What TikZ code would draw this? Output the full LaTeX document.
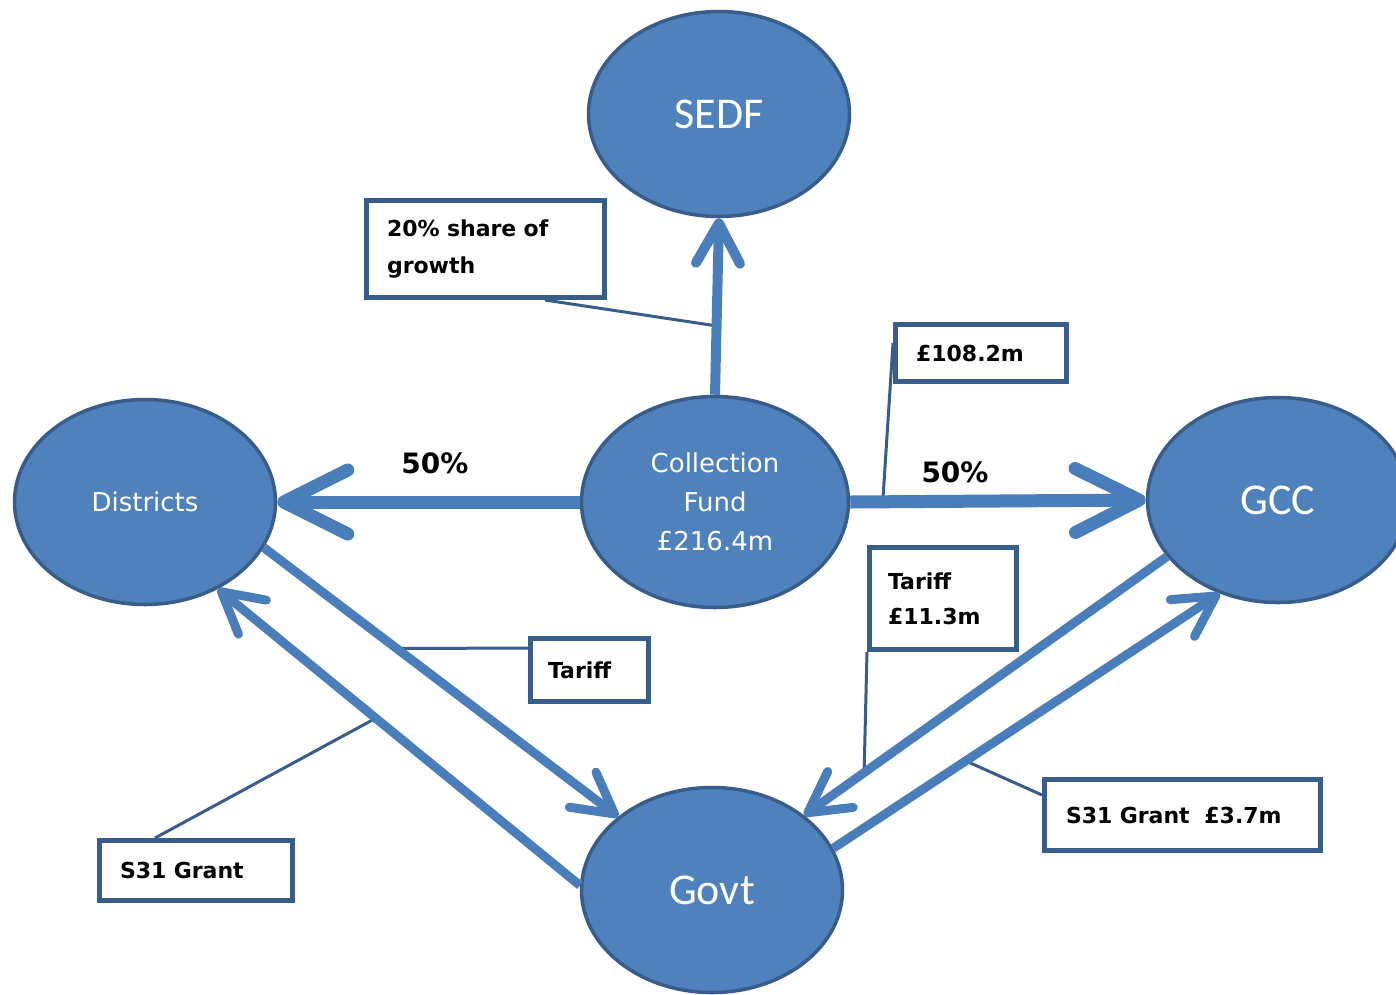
\documentclass[tikz,border=0pt]{standalone}
\usepackage{fontspec}
\setmainfont{DejaVu Sans}
\newfontfamily\calib{Carlito}
\usetikzlibrary{shapes.geometric,arrows.meta}
\definecolor{fillb}{HTML}{4F81BD}
\definecolor{edgeb}{HTML}{385D8A}
\definecolor{arrb}{HTML}{4A7EBB}
\pgfdeclarelayer{background}
\pgfsetlayers{background,main}
\begin{document}
\begin{tikzpicture}[x=1pt,y=-1pt,
  blob/.style={ellipse, fill=fillb, draw=edgeb, line width=3.5pt, text=white,
    inner sep=0pt, minimum width=261pt, minimum height=205pt, align=center},
  bigtxt/.style={font=\calib\fontsize{44}{48}\selectfont},
  midtxt/.style={font=\fontsize{26}{39}\selectfont},
  lbl/.style={rectangle, draw=edgeb, line width=5pt, fill=white, text=black,
    font=\bfseries\fontsize{22}{37}\selectfont, align=left, inner ysep=0pt},
  arr/.style={draw=arrb, line width=9pt, -{Straight Barb[round, length=40pt, width=44pt]}},
  bigarr/.style={draw=arrb, line width=13pt, -{Straight Barb[round, length=64pt, width=64pt]}},
  callout/.style={draw=edgeb, line width=3pt},
  pct/.style={font=\bfseries\fontsize{28}{30}\selectfont, text=black}
]
\begin{pgfonlayer}{background}
\fill[white] (0,0) rectangle (1396,994);
\end{pgfonlayer}
\useasboundingbox (0,0) rectangle (1396,994);

% ellipses
\node[blob, bigtxt] (sedf) at (719,114) {SEDF};
\node[blob, midtxt, minimum width=267pt, minimum height=211pt] (cf) at (715,502) {Collection\\Fund\\£216.4m};
\node[blob, midtxt] (dist) at (145,502) {Districts};
\node[blob, bigtxt] (gcc) at (1278,500) {GCC};
\node[blob, bigtxt] (govt) at (712,890) {Govt};

% arrows
\draw[arr, line width=10pt] (cf.north) -- coordinate[pos=0.39] (c20) (sedf.south);
\draw[bigarr] (cf.west) -- (dist.east);
\draw[bigarr] (cf.east) -- coordinate[pos=0.11] (c108) (gcc.west);
\draw[arr] (dist.-21) -- coordinate[pos=0.375] (ctar) (govt.142);
\draw[arr] (govt.178) -- coordinate[pos=0.564] (cs31) (dist.-50);
\draw[arr] (gcc.-153) -- coordinate[pos=0.835] (ctar2) (govt.39);
\draw[arr] (govt.19) -- coordinate[pos=0.343] (cs37) (gcc.-122);

% label boxes
\node[lbl, minimum width=238pt, minimum height=97pt, inner xsep=20.5pt, text width=197pt] (b20) at (485.5,249) {20\% share of\\growth};
\node[lbl, minimum width=171pt, minimum height=57pt, inner xsep=20.5pt, text width=130pt] (b108) at (981,353) {£108.2m};
\node[lbl, minimum width=118pt, minimum height=63pt, inner xsep=17.5pt, text width=83pt] (btar) at (589.5,670) {Tariff};
\node[lbl, minimum width=147pt, minimum height=102pt, inner xsep=18.5pt, text width=110pt, font=\bfseries\fontsize{22}{35}\selectfont] (btar2) at (943,598.5) {Tariff\\£11.3m};
\node[lbl, minimum width=276pt, minimum height=71pt, inner xsep=21.5pt, text width=233pt] (bs37) at (1182.5,815) {S31 Grant\ \ £3.7m};
\node[lbl, minimum width=193pt, minimum height=60pt, inner xsep=20.5pt, text width=152pt] (bs31) at (196,870.5) {S31 Grant};

% callout lines (behind the boxes)
\begin{pgfonlayer}{background}
\draw[callout] ([xshift=-62pt]b20.south east) -- (c20);
\draw[callout] ([yshift=10pt]b108.west) -- (c108);
\draw[callout] ([yshift=22pt]btar.west) -- (ctar);
\draw[callout] (btar2.south west) -- (ctar2);
\draw[callout] ([yshift=20pt]bs37.west) -- (cs37);
\draw[callout] ([xshift=58pt]bs31.north west) -- (cs31);
\end{pgfonlayer}

% percentages
\node[pct] (p1) at (435,463) {50\%};
\node[pct] (p2) at (955,472) {50\%};
\end{tikzpicture}
\end{document}
